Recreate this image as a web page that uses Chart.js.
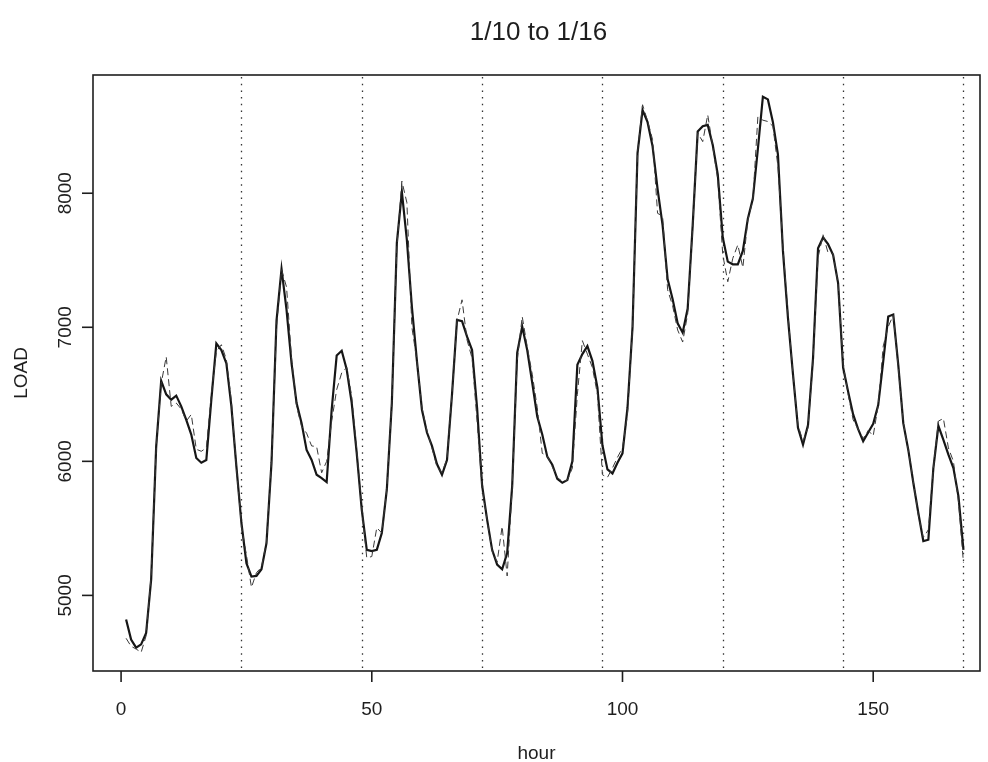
<!DOCTYPE html>
<html>
<head>
<meta charset="utf-8">
<title>1/10 to 1/16</title>
<script src="https://cdn.jsdelivr.net/npm/chart.js@4.4.1/dist/chart.umd.min.js"></script>
<style>
  html, body { margin: 0; padding: 0; background: #ffffff; }
  #wrap { width: 988px; height: 762px; }
</style>
</head>
<body>
<div id="wrap"><canvas id="c" width="988" height="762"></canvas></div>
<script>
// Hourly electricity load for one week (1/10 to 1/16): observed and forecast.
const hours = Array.from({ length: 168 }, (_, i) => i + 1);

const loadActual = [
  4820, 4670, 4610, 4635, 4720, 5120, 6110, 6600, 6500, 6460, 6490, 6410,
  6310, 6200, 6025, 5990, 6010, 6460, 6880, 6830, 6730, 6410, 5960, 5540,
  5240, 5140, 5145, 5195, 5390, 5990, 7050, 7435, 7130, 6730, 6435, 6285,
  6085, 6010, 5900, 5875, 5845, 6385, 6790, 6825, 6685, 6435, 6060, 5640,
  5340, 5330, 5340, 5465, 5790, 6435, 7630, 8010, 7650, 7150, 6750, 6385,
  6215, 6115, 5980, 5900, 6010, 6500, 7055, 7045, 6930, 6830, 6400, 5820,
  5565, 5340, 5230, 5195, 5315, 5815, 6810, 7005, 6830, 6585, 6335, 6200,
  6035, 5975, 5870, 5840, 5860, 6000, 6720, 6800, 6860, 6750, 6550, 6120,
  5940, 5910, 5990, 6060, 6400, 7000, 8300, 8620, 8530, 8350, 8030, 7760,
  7360, 7210, 7030, 6960, 7140, 7760, 8460, 8500, 8510, 8360, 8140, 7670,
  7490, 7470, 7470, 7570, 7810, 7960, 8330, 8720, 8700, 8530, 8290, 7570,
  7070, 6650, 6250, 6125, 6270, 6770, 7590, 7670, 7620, 7540, 7330, 6700,
  6520, 6350, 6240, 6150, 6215, 6280, 6420, 6745, 7080, 7095, 6720, 6285,
  6085, 5840, 5615, 5405, 5415, 5950, 6265, 6160, 6050, 5950, 5740, 5340
];

const loadForecast = [
  4680, 4620, 4600, 4575, 4700, 5150, 6100, 6580, 6780, 6410, 6435, 6390,
  6300, 6350, 6090, 6075, 6100, 6500, 6820, 6870, 6760, 6450, 5950, 5520,
  5300, 5060, 5170, 5210, 5400, 6000, 7000, 7430, 7300, 6770, 6410, 6260,
  6210, 6115, 6110, 5915, 6000, 6300, 6535, 6660, 6700, 6485, 6080, 5650,
  5280, 5290, 5505, 5465, 5790, 6435, 7600, 8090, 7930, 7000, 6750, 6400,
  6230, 6100, 5960, 5915, 6020, 6500, 7050, 7205, 6905, 6770, 6300, 5800,
  5560, 5330, 5250, 5515, 5145, 5800, 6750, 7080, 6855, 6650, 6400, 6060,
  6040, 5960, 5880, 5850, 5860, 5950, 6500, 6900, 6800, 6700, 6500, 5900,
  5880, 5950, 6030, 6100, 6350, 7000, 8300, 8660, 8540, 8400, 7850, 7830,
  7280, 7160, 6980, 6890, 7100, 7750, 8450, 8385, 8585, 8350, 8100, 7540,
  7340, 7515, 7615, 7445, 7800, 7950, 8570, 8545, 8535, 8500, 8200, 7600,
  7100, 6650, 6270, 6150, 6250, 6750, 7520, 7690, 7555, 7550, 7320, 6720,
  6500, 6310, 6240, 6170, 6230, 6190, 6420, 6860, 7005, 7090, 6700, 6290,
  6080, 5850, 5600, 5430, 5490, 5950, 6300, 6320, 6100, 6000, 5700, 5245
];

const dayBreaks = [24, 48, 72, 96, 120, 144, 168];
const xTickValues = [0, 50, 100, 150];
const yTickValues = [5000, 6000, 7000, 8000];

const titleText = '1/10 to 1/16';
const xTitle = 'hour';
const yTitle = 'LOAD';

const FONT = '"Liberation Sans", Arial, Helvetica, sans-serif';
const INK = '#1e1e1e';

// Frame, ticks, labels and day separators drawn against the chart's own scales.
const framePlugin = {
  id: 'frame',
  beforeDraw(chart) {
    const ctx = chart.ctx;
    ctx.save();
    ctx.fillStyle = '#ffffff';
    ctx.fillRect(0, 0, chart.width, chart.height);
    ctx.restore();
  },
  beforeDatasetsDraw(chart) {
    const { ctx, chartArea: a, scales: { x } } = chart;
    ctx.save();
    ctx.strokeStyle = '#333333';
    ctx.lineWidth = 1.3;
    ctx.setLineDash([1.5, 5.2]);
    dayBreaks.forEach(d => {
      const px = Math.round(x.getPixelForValue(d)) + 0.5;
      ctx.beginPath();
      ctx.moveTo(px, a.top + 2);
      ctx.lineTo(px, a.bottom - 1);
      ctx.stroke();
    });
    ctx.restore();
  },
  afterDraw(chart) {
    const { ctx, chartArea: a, scales: { x, y } } = chart;
    ctx.save();
    ctx.strokeStyle = INK;
    ctx.lineWidth = 1.6;
    ctx.setLineDash([]);
    ctx.strokeRect(a.left, a.top, a.right - a.left, a.bottom - a.top);

    ctx.fillStyle = INK;
    ctx.font = '19px ' + FONT;

    // x axis ticks and labels
    ctx.textAlign = 'center';
    ctx.textBaseline = 'alphabetic';
    xTickValues.forEach(v => {
      const px = x.getPixelForValue(v);
      ctx.beginPath();
      ctx.moveTo(px, a.bottom);
      ctx.lineTo(px, a.bottom + 11);
      ctx.stroke();
      ctx.fillText(String(v), px, 715);
    });

    // y axis ticks and labels, written parallel to the axis
    yTickValues.forEach(v => {
      const py = y.getPixelForValue(v);
      ctx.beginPath();
      ctx.moveTo(a.left, py);
      ctx.lineTo(a.left - 11, py);
      ctx.stroke();
      ctx.save();
      ctx.translate(71, py);
      ctx.rotate(-Math.PI / 2);
      ctx.textAlign = 'center';
      ctx.fillText(String(v), 0, 0);
      ctx.restore();
    });

    // axis titles
    ctx.textAlign = 'center';
    ctx.fillText(xTitle, (a.left + a.right) / 2, 759);
    ctx.save();
    ctx.translate(27, (a.top + a.bottom) / 2);
    ctx.rotate(-Math.PI / 2);
    ctx.fillText(yTitle, 0, 0);
    ctx.restore();

    // main title
    ctx.font = '26px ' + FONT;
    ctx.fillText(titleText, (a.left + a.right) / 2 + 2, 40);
    ctx.restore();
  }
};

const toPoints = vals => hours.map((h, i) => ({ x: h, y: vals[i] }));

new Chart(document.getElementById('c'), {
  type: 'line',
  data: {
    datasets: [
      {
        label: 'forecast',
        data: toPoints(loadForecast),
        borderColor: '#3a3a3a',
        borderWidth: 1,
        borderDash: [7, 4],
        pointRadius: 0,
        tension: 0,
        fill: false
      },
      {
        label: 'load',
        data: toPoints(loadActual),
        borderColor: '#161616',
        borderWidth: 2.2,
        pointRadius: 0,
        tension: 0,
        fill: false
      }
    ]
  },
  options: {
    responsive: false,
    animation: false,
    devicePixelRatio: 1,
    layout: { padding: { left: 93, right: 8, top: 75, bottom: 91 } },
    plugins: { legend: { display: false }, title: { display: false }, tooltip: { enabled: false } },
    scales: {
      x: { type: 'linear', min: -5.6, max: 171.3, display: false },
      y: { type: 'linear', min: 4436, max: 8882, display: false }
    }
  },
  plugins: [framePlugin]
});
</script>
</body>
</html>
